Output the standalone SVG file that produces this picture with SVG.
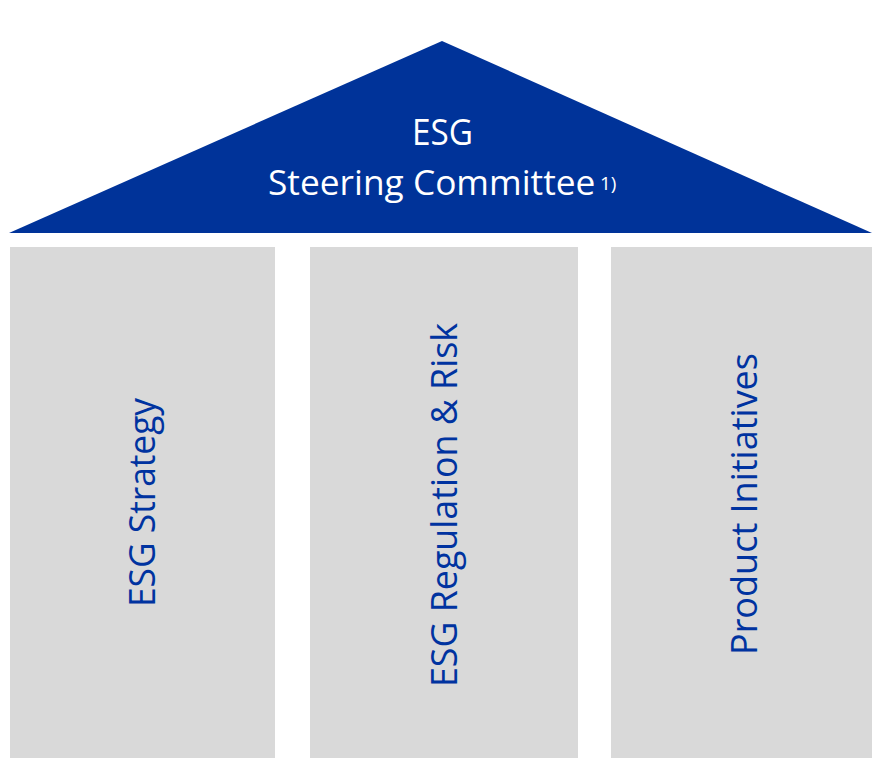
<svg xmlns="http://www.w3.org/2000/svg" width="872" height="758" viewBox="0 0 872 758">
  <style>
    .pillar { fill: #D9D9D9; }
    .roof { fill: #003399; }
    .t { font-family: "Open Sans", "Noto Sans", "Liberation Sans", sans-serif; font-size: 37px; }
    .w { fill: #FFFFFF; }
    .b { fill: #0033A0; }
  </style>
  <rect width="872" height="758" fill="#FFFFFF"/>
  <g id="roof">
    <polygon class="roof" points="9,233 442,41 872,233"/>
    <text class="t w" x="442.5" y="145" text-anchor="middle" textLength="61" lengthAdjust="spacingAndGlyphs">ESG</text>
    <text class="t w" x="268" y="195" style="font-size:35.3px">Steering Committee</text>
    <text class="t w" x="600" y="190" style="font-size:19px">1)</text>
  </g>
  <g id="pillar-strategy">
    <rect class="pillar" x="10" y="247" width="265" height="511"/>
    <text class="t b" transform="translate(155,502.5) rotate(-90)" text-anchor="middle" textLength="209" lengthAdjust="spacingAndGlyphs">ESG Strategy</text>
  </g>
  <g id="pillar-regulation">
    <rect class="pillar" x="310" y="247" width="268" height="511"/>
    <text class="t b" transform="translate(456.5,505) rotate(-90)" text-anchor="middle" textLength="364" lengthAdjust="spacingAndGlyphs">ESG Regulation &amp; Risk</text>
  </g>
  <g id="pillar-product">
    <rect class="pillar" x="611" y="247" width="261" height="511"/>
    <text class="t b" transform="translate(757,504) rotate(-90)" text-anchor="middle" textLength="302" lengthAdjust="spacingAndGlyphs">Product Initiatives</text>
  </g>
  <g id="connectors"/>
</svg>
